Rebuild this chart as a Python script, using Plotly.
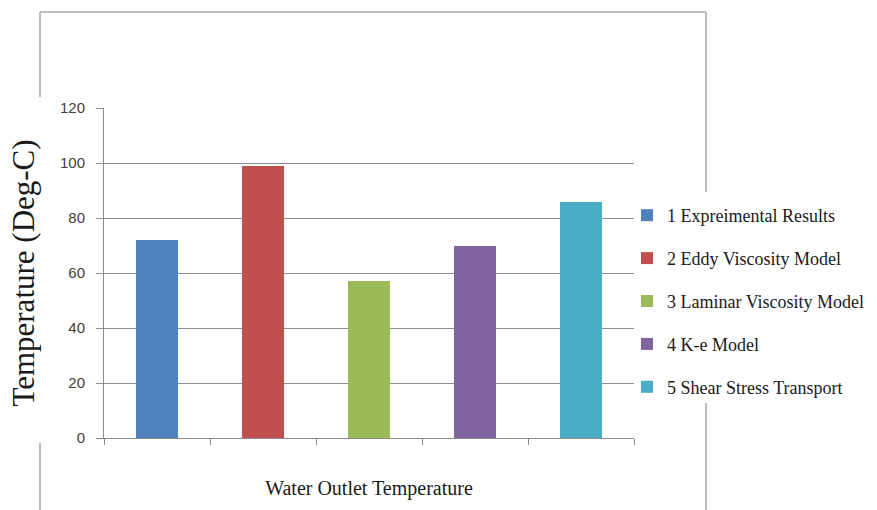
import plotly.graph_objects as go

# ---- data ----
series_names = [
    "1 Expreimental Results",
    "2 Eddy Viscosity Model",
    "3 Laminar Viscosity Model",
    "4 K-e Model",
    "5 Shear Stress Transport",
]
series_values = [72, 99, 57, 70, 86]
series_colors = ["#4F81BD", "#C0504D", "#9BBB59", "#8064A2", "#4BACC6"]
y_ticks = [0, 20, 40, 60, 80, 100, 120]
x_title = "Water Outlet Temperature"
y_title = "Temperature (Deg-C)"

W, H = 877, 510
L, R, T, B = 104, 634, 108, 438

fig = go.Figure()
for i, (name, val, col) in enumerate(zip(series_names, series_values, series_colors)):
    fig.add_trace(go.Bar(
        x=[i], y=[val], name=name, width=0.39,
        marker=dict(color=col, line=dict(width=0)),
        legendgroup=name,
    ))

grid_col = "#8C8C8C"

def px(x):
    return (x - L) / (R - L)

def py(y):
    return (B - y) / (B - T)

frame = [
    (40, 12, 40, 97), (40, 443, 40, 515),
    (40, 12, 706, 12),
    (706, 12, 706, 192), (706, 403, 706, 515),
]
shapes = [dict(type="line", xref="paper", yref="paper",
               x0=px(a), y0=py(b), x1=px(c), y1=py(d),
               line=dict(color="#A6A6A6", width=1.5)) for a, b, c, d in frame]

fig.update_layout(
    width=W, height=H,
    margin=dict(l=L, r=W - R, t=T, b=H - B, pad=0, autoexpand=False),
    paper_bgcolor="white", plot_bgcolor="white",
    showlegend=True,
    bargap=0,
    legend=dict(
        xref="container", yref="container",
        x=627 / W, y=1 - 197 / H, xanchor="left", yanchor="top",
        font=dict(family="Liberation Serif", size=18, color="#1a1a1a"),
        traceorder="grouped", tracegroupgap=16.5,
        itemwidth=30, bgcolor="rgba(0,0,0,0)",
    ),
    xaxis=dict(
        range=[-0.5, 4.5], showgrid=False, zeroline=False,
        showline=True, linecolor=grid_col, linewidth=1,
        tickmode="array", tickvals=[-0.5, 0.5, 1.5, 2.5, 3.5, 4.5],
        ticks="outside", ticklen=6, tickcolor=grid_col,
        showticklabels=False,
        title=dict(text=x_title, standoff=36,
                   font=dict(family="Liberation Serif", size=20, color="#1a1a1a")),
    ),
    yaxis=dict(
        range=[0, 120], tickmode="array", tickvals=y_ticks,
        showgrid=True, gridcolor=grid_col, gridwidth=1,
        zeroline=False, showline=True, linecolor=grid_col, linewidth=1,
        ticks="outside", ticklen=7, tickcolor=grid_col,
        ticklabelstandoff=8,
        tickfont=dict(family="Liberation Sans", size=15, color="#404040"),
        title=dict(text=y_title, standoff=16,
                   font=dict(family="Liberation Serif", size=31, color="#1a1a1a")),
    ),
    shapes=shapes,
)

fig.write_html(
    "out.html",
    config={"displayModeBar": False},
    post_script="document.body.style.margin='0';document.body.style.overflow='hidden';",
)
